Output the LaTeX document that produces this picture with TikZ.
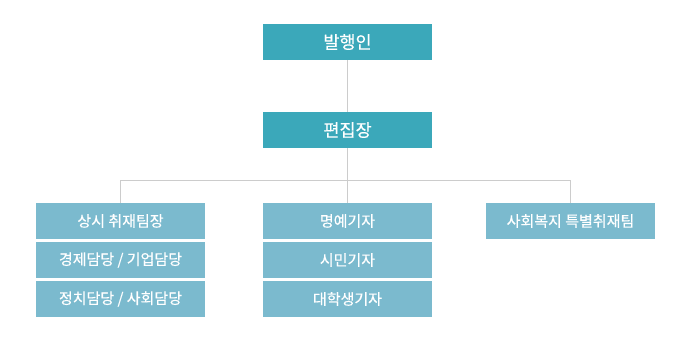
\documentclass[tikz,border=0pt]{standalone}
\usepackage{fontspec}
\setmainfont{Noto Sans CJK KR}[FakeBold=0.4]
\usepackage{tikz}

\begin{document}
\begin{tikzpicture}[
  x=1pt,
  y=-1pt,
  orgline/.style={draw=black!20, line width=1pt},
  headbox/.style={fill={rgb,255:red,59;green,168;blue,186}, text=white, minimum width=169pt, minimum height=36pt, inner sep=0pt, font=\fontsize{17.5}{17.5}\selectfont},
  deskbox/.style={fill={rgb,255:red,123;green,186;blue,206}, text=white, minimum width=169pt, minimum height=36pt, inner sep=0pt, font=\fontsize{15}{15}\selectfont}
]
  \useasboundingbox (0,0) rectangle (694,349);

  \node[headbox] (publisher) at (347.5,42) {발행인};
  \node[headbox] (editor) at (347.5,130) {편집장};

  \foreach \name/\y/\label in {left1/221/{상시 취재팀장}, left2/260/{경제담당 / 기업담당}, left3/299/{정치담당 / 사회담당}} {
    \node[deskbox] (\name) at (120.5,\y) {\label};
  }
  \foreach \name/\y/\label in {mid1/221/명예기자, mid2/260/시민기자, mid3/299/대학생기자} {
    \node[deskbox] (\name) at (347.5,\y) {\label};
  }
  \node[deskbox] (right1) at (570.5,221) {사회복지 특별취재팀};

  \coordinate (bus) at (347.5,180.5);
  \draw[orgline] (publisher.south) -- (editor.north);
  \draw[orgline] (editor.south) -- (mid1.north);
  \draw[orgline] (left1.north) |- (bus) -| (right1.north);
\end{tikzpicture}
\end{document}
